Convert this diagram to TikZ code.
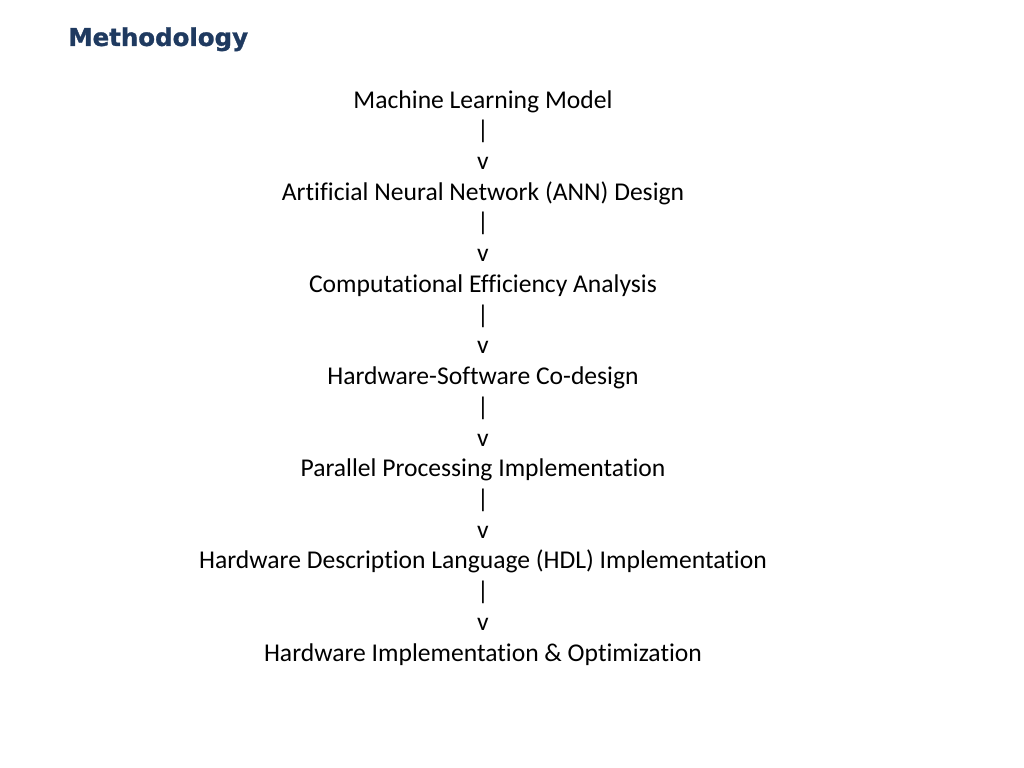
\documentclass[tikz,border=0pt]{standalone}
\usepackage{fontspec}
\setmainfont[Ligatures=NoCommon]{Carlito}
\newfontfamily\titlefont[BoldFeatures={FakeBold=1.2}]{DejaVu Sans}
\definecolor{titleblue}{RGB}{31,58,96}
\begin{document}
\begin{tikzpicture}[x=1pt,y=1pt,
  flowline/.style={anchor=base,font=\fontsize{18}{21.6}\selectfont}]
\def\gap{21.6}
\def\midx{339.6}
\useasboundingbox (0,0) rectangle (720,-540);
\node[anchor=base west,inner sep=0pt,text=titleblue,
  font=\titlefont\bfseries\fontsize{17.2}{20}\selectfont] (title) at (47.8,-32.3) {Methodology};
\foreach \t [count=\i] in {{Machine Learning Model},|,v,
  {Artificial Neural Network (ANN) Design},|,v,
  {Computational Efficiency Analysis},|,v,
  {Hardware-Software Co-design},|,v,
  {Parallel Processing Implementation},|,v,
  {Hardware Description Language (HDL) Implementation},|,v,
  {Hardware Implementation \& Optimization}}{
	\node[flowline] (line\i) at (\midx,{-76-(\i-1)*\gap}) {\t};
}
\end{tikzpicture}
\end{document}
